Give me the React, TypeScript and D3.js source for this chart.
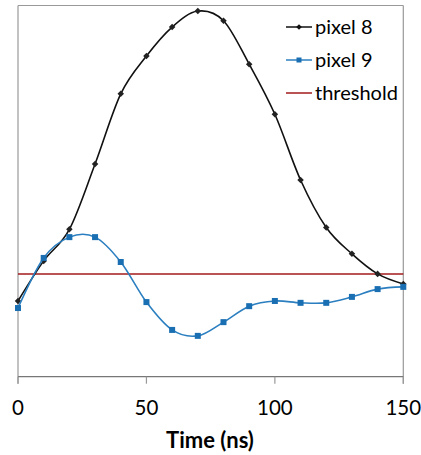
import React from "react";
import * as d3 from "d3";

const times = [0, 10, 20, 30, 40, 50, 60, 70, 80, 90, 100, 110, 120, 130, 140, 150];
const pixel8 = [20.4, 31.2, 39.7, 57.3, 76.2, 86.4, 94.2, 98.5, 95.9, 84.2, 70.7, 53.0, 40.2, 33.1, 27.7, 25.0];
const pixel9 = [18.5, 32.0, 37.6, 37.6, 30.9, 20.1, 12.6, 11.0, 14.7, 19.0, 20.4, 19.9, 19.9, 21.5, 23.6, 24.2];
const thresholdValue = 27.7;
const xTicks = [0, 50, 100, 150];
const seriesNames = ["pixel 8", "pixel 9", "threshold"];

const W = 421;
const H = 455;
const left = 18;
const right = 403.3;
const top = 5.5;
const bottom = 376.7;

const FONT = "Lato, 'Open Sans', sans-serif";
const BLUE = "#2b7fc0";
const BLUE_MARK = "#1a6fb3";
const RED = "#a31a1a";

export default function App() {
  const x = d3.scaleLinear().domain([0, 150]).range([left, right]);
  const y = d3.scaleLinear().domain([0, 100]).range([bottom, top]);
  const line = d3
    .line<number>()
    .x((_, i) => x(times[i]))
    .y((d) => y(d))
    .curve(d3.curveCardinal.tension(0));

  const legendY = [27, 60, 93];
  const legendColors = ["#111", BLUE, RED];

  return (
    <div style={{ position: "absolute", left: 0, top: 0 }}>
      <svg width={W} height={H} style={{ display: "block", background: "#fff" }}>
        {/* frame */}
        <line x1={left} x2={right} y1={top} y2={top} stroke="#999" strokeWidth={1.2} />
        <line x1={left} x2={left} y1={top} y2={bottom + 7} stroke="#999" strokeWidth={1.2} />
        <line x1={right} x2={right} y1={top} y2={bottom + 7} stroke="#999" strokeWidth={1.2} />
        <line x1={left} x2={right} y1={bottom} y2={bottom} stroke="#777" strokeWidth={1.2} />
        {xTicks.map((t) => (
          <g key={t}>
            <line x1={x(t)} x2={x(t)} y1={bottom} y2={bottom + 7} stroke="#999" strokeWidth={1.2} />
            <text x={x(t)} y={415} textAnchor="middle" fontFamily={FONT} fontSize={20.5} fill="#000">
              {t}
            </text>
          </g>
        ))}
        <text x={210} y={448} textAnchor="middle" fontFamily={FONT} fontSize={22} fontWeight="bold" fill="#000">
          Time (ns)
        </text>

        {/* threshold */}
        <line x1={x(0)} x2={x(150)} y1={y(thresholdValue)} y2={y(thresholdValue)} stroke={RED} strokeWidth={1.5} />

        {/* pixel 8 */}
        <path d={line(pixel8) || ""} fill="none" stroke="#111" strokeWidth={1.6} />
        {pixel8.map((v, i) => (
          <rect
            key={i}
            x={x(times[i]) - 2.3}
            y={y(v) - 2.3}
            width={4.6}
            height={4.6}
            fill="#222"
            transform={`rotate(45 ${x(times[i])} ${y(v)})`}
          />
        ))}

        {/* pixel 9 */}
        <path d={line(pixel9) || ""} fill="none" stroke={BLUE} strokeWidth={1.6} />
        {pixel9.map((v, i) => (
          <rect key={i} x={x(times[i]) - 3} y={y(v) - 3} width={6} height={6} fill={BLUE_MARK} />
        ))}

        {/* legend */}
        {seriesNames.map((n, i) => (
          <g key={n}>
            <line x1={286} x2={312} y1={legendY[i]} y2={legendY[i]} stroke={legendColors[i]} strokeWidth={1.5} />
            {i === 0 && <rect x={297} y={legendY[i] - 2} width={4} height={4} fill="#111" transform={`rotate(45 299 ${legendY[i]})`} />}
            {i === 1 && <rect x={296.5} y={legendY[i] - 2.5} width={5} height={5} fill={BLUE_MARK} />}
            <text x={315} y={legendY[i] + 6.5} fontFamily={FONT} fontSize={20} fill="#000">
              {n}
            </text>
          </g>
        ))}
      </svg>
    </div>
  );
}
